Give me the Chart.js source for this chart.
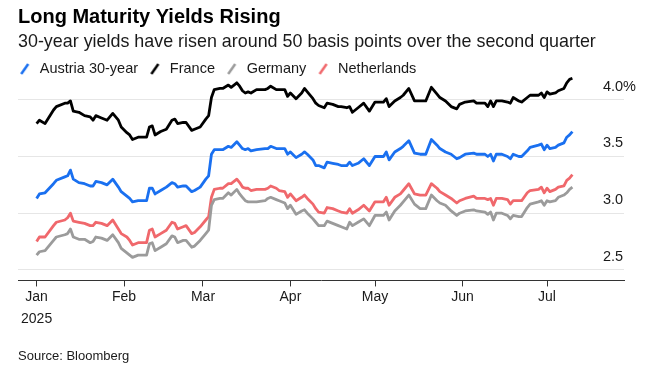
<!DOCTYPE html>
<html>
<head>
<meta charset="utf-8">
<script src="https://cdn.jsdelivr.net/npm/chart.js@4.4.1/dist/chart.umd.min.js"></script>
<style>
  html, body { margin: 0; padding: 0; background: #fff; }
  #chart { display: block; }
</style>
</head>
<body>
<canvas id="chart" width="651" height="373"></canvas>
<script>
// trading days (2025, MM-DD)
var dates = [
  '01-01','01-02','01-04','01-07','01-08','01-11','01-12','01-13','01-14','01-16',
  '01-18','01-20','01-21','01-22','01-24','01-26','01-28','01-30','01-31','02-02',
  '02-03','02-04','02-06','02-09','02-10','02-11','02-12','02-14','02-16','02-18',
  '02-19','02-20','02-22','02-23','02-25','02-26','02-28','03-02','03-03','03-04',
  '03-05','03-07','03-08','03-10','03-11','03-13','03-14','03-15','03-16','03-17',
  '03-18','03-20','03-23','03-24','03-25','03-27','03-28','03-30','03-31','04-01',
  '04-03','04-05','04-06','04-07','04-09','04-10','04-11','04-13','04-14','04-16',
  '04-18','04-19','04-21','04-22','04-23','04-25','04-27','04-29','05-01','05-04',
  '05-05','05-06','05-08','05-10','05-11','05-13','05-15','05-17','05-19','05-21',
  '05-23','05-24','05-26','05-28','05-30','05-31','06-02','06-05','06-06','06-09',
  '06-10','06-11','06-12','06-13','06-15','06-17','06-18','06-19','06-21','06-22',
  '06-24','06-25','06-28','06-29','06-30','07-01','07-02','07-04','07-05','07-07',
  '07-08','07-09','07-10'
];

var austria = [
  3.13,3.17,3.18,3.26,3.29,3.32,3.33,3.38,3.30,3.27,
  3.26,3.24,3.24,3.28,3.27,3.25,3.30,3.23,3.19,3.15,
  3.13,3.10,3.11,3.11,3.22,3.22,3.17,3.20,3.23,3.27,
  3.26,3.23,3.24,3.24,3.19,3.20,3.23,3.30,3.33,3.52,
  3.56,3.56,3.56,3.59,3.58,3.63,3.60,3.57,3.56,3.57,
  3.55,3.56,3.57,3.57,3.59,3.57,3.57,3.57,3.52,3.54,
  3.49,3.52,3.54,3.52,3.47,3.42,3.42,3.40,3.45,3.44,
  3.43,3.42,3.42,3.45,3.42,3.44,3.48,3.42,3.50,3.50,
  3.54,3.47,3.54,3.57,3.59,3.64,3.53,3.52,3.52,3.65,
  3.60,3.57,3.54,3.52,3.48,3.49,3.52,3.53,3.52,3.52,
  3.50,3.52,3.46,3.52,3.52,3.50,3.48,3.52,3.50,3.50,
  3.55,3.58,3.60,3.61,3.56,3.60,3.57,3.58,3.60,3.62,
  3.67,3.69,3.72
];

var france = [
  3.79,3.82,3.79,3.91,3.94,3.97,3.97,3.99,3.90,3.89,
  3.86,3.85,3.82,3.86,3.84,3.82,3.88,3.82,3.76,3.71,
  3.69,3.65,3.67,3.67,3.76,3.77,3.69,3.72,3.74,3.82,
  3.83,3.79,3.80,3.80,3.73,3.74,3.76,3.83,3.86,4.02,
  4.09,4.10,4.10,4.13,4.11,4.15,4.12,4.08,4.06,4.07,
  4.06,4.09,4.09,4.10,4.12,4.09,4.09,4.09,4.03,4.06,
  4.01,4.06,4.10,4.07,4.01,3.97,3.95,3.93,3.97,3.96,
  3.94,3.94,3.93,3.94,3.89,3.93,3.97,3.90,3.98,3.98,
  4.01,3.94,3.99,4.02,4.04,4.10,3.99,3.99,3.99,4.11,
  4.05,4.02,3.99,3.94,3.92,3.96,3.98,3.99,3.97,3.97,
  3.94,3.99,3.94,3.99,3.99,3.98,3.97,4.02,3.99,3.98,
  4.02,4.04,4.04,4.06,4.02,4.07,4.05,4.06,4.08,4.10,
  4.15,4.18,4.19
];

var germany = [
  2.63,2.66,2.67,2.76,2.79,2.81,2.82,2.86,2.79,2.77,
  2.77,2.74,2.75,2.79,2.78,2.76,2.81,2.74,2.69,2.65,
  2.63,2.61,2.63,2.63,2.73,2.74,2.67,2.70,2.73,2.80,
  2.79,2.74,2.76,2.76,2.70,2.71,2.76,2.82,2.85,3.07,
  3.12,3.13,3.13,3.18,3.16,3.21,3.17,3.14,3.11,3.10,
  3.10,3.10,3.11,3.13,3.14,3.12,3.11,3.09,3.04,3.07,
  2.99,3.02,3.03,3.00,2.95,2.92,2.89,2.89,2.93,2.91,
  2.89,2.88,2.86,2.92,2.89,2.92,2.95,2.89,2.98,2.98,
  3.01,2.94,3.02,3.07,3.10,3.16,3.08,3.04,3.04,3.16,
  3.11,3.09,3.07,3.02,2.98,3.00,3.02,3.03,3.02,3.01,
  2.99,3.01,2.94,3.00,3.00,2.98,2.95,2.98,2.97,2.97,
  3.05,3.08,3.10,3.11,3.07,3.11,3.10,3.11,3.14,3.16,
  3.18,3.21,3.23
];

var netherlands = [
  2.75,2.79,2.79,2.89,2.92,2.94,2.96,3.00,2.93,2.92,
  2.91,2.89,2.89,2.92,2.91,2.89,2.94,2.86,2.82,2.79,
  2.76,2.72,2.74,2.74,2.85,2.86,2.79,2.82,2.85,2.92,
  2.91,2.86,2.88,2.89,2.82,2.83,2.88,2.94,2.97,3.14,
  3.21,3.22,3.22,3.26,3.26,3.30,3.27,3.23,3.22,3.22,
  3.20,3.21,3.21,3.22,3.24,3.22,3.20,3.19,3.14,3.17,
  3.11,3.14,3.16,3.13,3.08,3.04,3.01,3.00,3.05,3.04,
  3.02,3.01,3.00,3.04,3.00,3.03,3.07,3.02,3.10,3.10,
  3.14,3.07,3.14,3.17,3.20,3.26,3.17,3.16,3.16,3.26,
  3.22,3.19,3.16,3.13,3.09,3.11,3.13,3.15,3.13,3.13,
  3.12,3.13,3.07,3.13,3.13,3.12,3.08,3.11,3.11,3.11,
  3.18,3.20,3.21,3.23,3.18,3.22,3.19,3.21,3.23,3.24,
  3.29,3.31,3.34
];

var monthStarts = ['01-01','02-01','03-01','04-01','05-01','06-01','07-01'];
var monthNames = ['Jan','Feb','Mar','Apr','May','Jun','Jul'];
var yTicks = [2.5, 3.0, 3.5, 4.0];

// Tag im Jahr (1. Januar = 0)
function dayOfYear(md) {
    var p = md.split('-');
    return (Date.UTC(2025, p[0] - 1, +p[1]) - Date.UTC(2025, 0, 1)) / 864e5;
}

function toPoints(values) {
    return values.map(function(v, i) { return {x: dayOfYear(dates[i]), y: v}; });
}

// kleiner Schraegstrich als Legendensymbol
function slash(color) {
    var c = document.createElement('canvas');
    c.width = 12; c.height = 14;
    var ctx = c.getContext('2d');
    ctx.strokeStyle = color;
    ctx.lineWidth = 2.5;
    ctx.beginPath();
    ctx.moveTo(2, 12);
    ctx.lineTo(9, 2);
    ctx.stroke();
    return c;
}

var series = [
    {label: 'Austria 30-year', data: austria, color: '#1a70f0'},
    {label: 'France', data: france, color: '#000000'},
    {label: 'Germany', data: germany, color: '#9b9b9b'},
    {label: 'Netherlands', data: netherlands, color: '#f0686c'}
];

var tickDays = monthStarts.map(dayOfYear);

// Legende buendig mit dem Titel (ohne den linken Innenabstand)
var legendShift = {
    id: 'legendShift',
    afterLayout: function(chart) {
        chart.legend.left -= 10;
        chart.legend.right -= 10;
    }
};

Chart.defaults.font.family = "'Liberation Sans', Arial, sans-serif";
Chart.defaults.color = '#1a1a1a';

new Chart(document.getElementById('chart'), {
    type: 'line',
    data: {
        datasets: series.map(function(s) {
            return {
                label: s.label,
                data: toPoints(s.data),
                borderColor: s.color,
                backgroundColor: s.color,
                borderWidth: 2.8,
                borderJoinStyle: 'round',
                pointRadius: 0,
                pointStyle: slash(s.color),
                tension: 0,
                clip: false
            };
        })
    },
    plugins: [legendShift],
    options: {
        responsive: false,
        animation: false,
        layout: {padding: {left: 18, right: 3, top: 0, bottom: 9}},
        plugins: {
            title: {
                display: true,
                text: 'Long Maturity Yields Rising',
                align: 'start',
                color: '#000',
                font: {size: 20, weight: 'bold'},
                padding: {top: 5, bottom: 2}
            },
            subtitle: {
                display: true,
                text: '30-year yields have risen around 50 basis points over the second quarter',
                align: 'start',
                color: '#1a1a1a',
                font: {size: 17.9, lineHeight: 1.1},
                padding: {top: 1, bottom: 0}
            },
            legend: {
                display: true,
                align: 'start',
                labels: {
                    usePointStyle: true,
                    font: {size: 14.5},
                    color: '#1a1a1a',
                    padding: 10
                }
            },
            tooltip: {enabled: false}
        },
        scales: {
            x: {
                type: 'linear',
                min: -6.6,
                max: 208.3,
                afterBuildTicks: function(axis) {
                    axis.ticks = tickDays.map(function(d) { return {value: d}; });
                },
                ticks: {
                    autoSkip: false,
                    maxRotation: 0,
                    padding: 0,
                    color: '#1a1a1a',
                    font: {size: 14, lineHeight: 1.57},
                    callback: function(value) {
                        var i = tickDays.indexOf(value);
                        if (i === 0) return [monthNames[0], '2025'];
                        return monthNames[i];
                    }
                },
                grid: {
                    display: true,
                    drawOnChartArea: false,
                    drawTicks: true,
                    tickLength: 6,
                    color: '#333'
                },
                border: {display: true, color: '#333', width: 1},
                title: {
                    display: true,
                    text: 'Source: Bloomberg',
                    align: 'start',
                    color: '#1a1a1a',
                    font: {size: 13},
                    padding: {top: 18, bottom: 0}
                }
            },
            y: {
                position: 'right',
                min: 2.407,
                max: 4.12,
                afterBuildTicks: function(axis) {
                    axis.ticks = yTicks.map(function(v) { return {value: v}; });
                },
                ticks: {
                    mirror: true,
                    crossAlign: 'far',
                    padding: 12,
                    labelOffset: -13,
                    color: '#1a1a1a',
                    font: {size: 14.5},
                    callback: function(value) {
                        return value === 4 ? '4.0%' : value.toFixed(1);
                    }
                },
                grid: {
                    color: '#e6e6e6',
                    drawTicks: false
                },
                border: {display: false}
            }
        }
    }
});
</script>
</body>
</html>
